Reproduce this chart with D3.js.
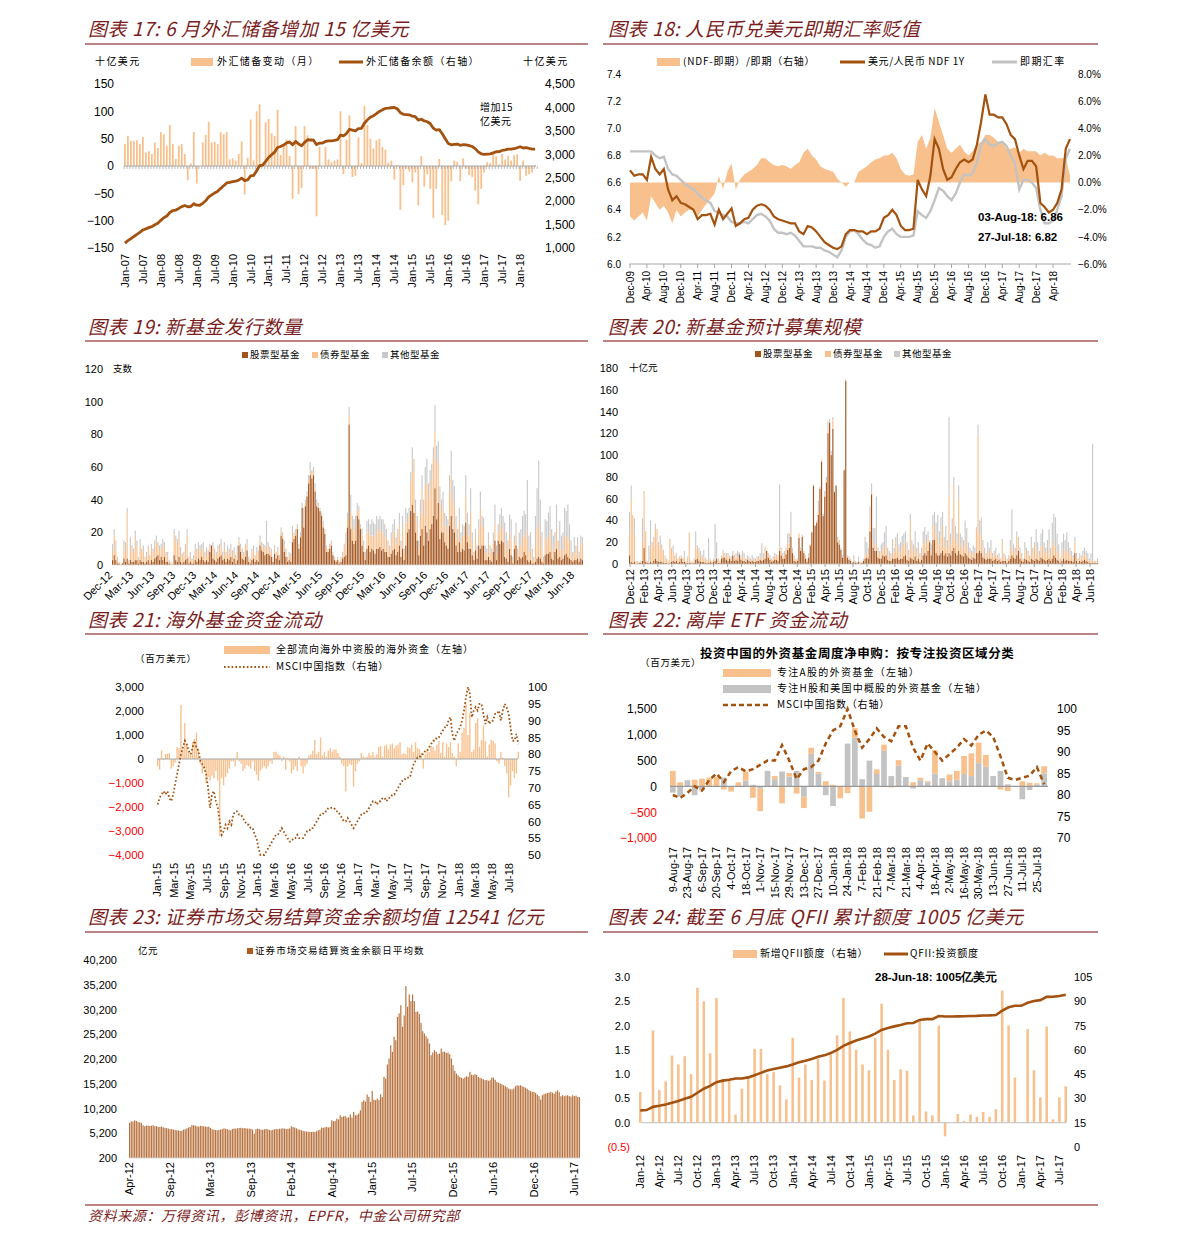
<!DOCTYPE html>
<html><head><meta charset="utf-8">
<script src="https://cdn.jsdelivr.net/npm/d3@7"></script>
<style>body{margin:0;background:#fff}</style>
</head><body>
<svg id="c" width="1191" height="1246" xmlns="http://www.w3.org/2000/svg"></svg>
<script>
// ================= DATA =================
// Panel 17: monthly FX reserve change (bn USD) and reserve level (bn USD), Jan-07 .. Jun-18
const p17Ticks = ["Jan-07","Jul-07","Jan-08","Jul-08","Jan-09","Jul-09","Jan-10","Jul-10","Jan-11","Jul-11","Jan-12","Jul-12","Jan-13","Jul-13","Jan-14","Jul-14","Jan-15","Jul-15","Jan-16","Jul-16","Jan-17","Jul-17","Jan-18"];
const fxChange = [40,55,46,46,47,40,53,25,27,22,43,33,
 62,58,37,75,40,13,37,40,22,-26,5,62,
 -32,0,43,57,81,43,44,40,62,58,62,12,
 14,10,22,45,-52,15,85,10,100,113,0,80,
 86,60,55,103,20,40,48,18,-60,73,-52,-40,
 73,56,-5,-5,-92,35,0,35,12,7,10,12,
 100,-15,48,93,-20,-18,52,5,110,75,50,32,
 47,50,35,30,6,10,-25,2,-80,-35,-5,-10,
 -30,-12,-72,18,-38,-15,-42,-95,-42,13,-90,-108,
 -100,-28,10,8,-28,14,-5,-17,-20,-45,-70,-42,
 -12,7,5,25,18,3,22,12,18,10,20,21,
 -27,10,-18,-15,-12,2];
const fxReserves = [1105,1157,1202,1246,1292,1333,1385,1409,1434,1455,1497,1528,
 1590,1647,1682,1757,1797,1809,1845,1884,1906,1880,1885,1946,
 1913,1912,1954,2009,2089,2132,2175,2211,2273,2328,2388,2399,
 2415,2425,2447,2490,2440,2454,2538,2548,2648,2760,2768,2847,
 2931,2991,3045,3145,3166,3197,3245,3263,3202,3274,3221,3181,
 3254,3310,3305,3300,3206,3240,3240,3273,3285,3288,3298,3312,
 3410,3395,3443,3535,3515,3497,3548,3553,3663,3736,3790,3821,
 3866,3914,3948,3979,3984,3993,4000,3969,3887,3853,3848,3843,
 3813,3802,3730,3748,3711,3694,3651,3557,3514,3525,3438,3330,
 3230,3202,3213,3219,3192,3205,3201,3185,3166,3121,3052,3011,
 2998,3005,3009,3030,3054,3057,3081,3092,3109,3109,3119,3140,
 3161,3134,3143,3125,3111,3112];

// Panel 18: monthly, Dec-09 .. Aug-18
const p18Ticks = ["Dec-09","Apr-10","Aug-10","Dec-10","Apr-11","Aug-11","Dec-11","Apr-12","Aug-12","Dec-12","Apr-13","Aug-13","Dec-13","Apr-14","Aug-14","Dec-14","Apr-15","Aug-15","Dec-15","Apr-16","Aug-16","Dec-16","Apr-17","Aug-17","Dec-17","Apr-18"];
const ndf1y = [6.69,
 6.65,6.66,6.66,6.62,6.79,6.70,6.66,6.70,6.55,6.47,6.50,6.45,
 6.44,6.42,6.40,6.33,6.36,6.36,6.37,6.29,6.40,6.33,6.37,6.41,
 6.28,6.30,6.33,6.34,6.40,6.43,6.44,6.43,6.40,6.35,6.33,6.32,
 6.31,6.30,6.30,6.24,6.22,6.28,6.27,6.24,6.20,6.16,6.14,6.12,
 6.11,6.13,6.22,6.25,6.25,6.24,6.24,6.22,6.24,6.24,6.26,6.34,
 6.36,6.40,6.36,6.28,6.25,6.25,6.26,6.62,6.55,6.50,6.65,6.92,
 6.85,6.70,6.62,6.64,6.70,6.75,6.77,6.75,6.77,6.88,7.05,7.25,
 7.10,7.10,7.08,7.08,7.03,6.95,6.92,6.80,6.70,6.76,6.76,6.72,
 6.45,6.42,6.38,6.40,6.45,6.55,6.85,6.92];
const spotRate = [6.83,
 6.83,6.83,6.83,6.83,6.83,6.80,6.78,6.79,6.70,6.66,6.65,6.62,
 6.59,6.57,6.55,6.52,6.49,6.47,6.45,6.39,6.38,6.36,6.35,6.31,
 6.30,6.30,6.31,6.30,6.33,6.36,6.37,6.35,6.32,6.26,6.23,6.23,
 6.22,6.23,6.21,6.17,6.13,6.13,6.13,6.12,6.12,6.10,6.09,6.07,
 6.05,6.10,6.20,6.24,6.25,6.22,6.18,6.15,6.14,6.12,6.13,6.20,
 6.24,6.26,6.22,6.20,6.20,6.20,6.21,6.39,6.36,6.34,6.39,6.47,
 6.56,6.54,6.50,6.47,6.52,6.60,6.66,6.65,6.67,6.75,6.88,6.92,
 6.88,6.87,6.89,6.90,6.87,6.80,6.74,6.55,6.62,6.62,6.60,6.56,
 6.40,6.30,6.30,6.32,6.40,6.50,6.78,6.85];
const ndfSpread = [-2.5,
 -2.8,-2.5,-2.2,-2.8,-1.0,-1.5,-2.0,-1.7,-2.2,-3.0,-2.0,-2.5,
 -2.2,-2.0,-2.0,-2.5,-2.0,-1.6,-1.2,-0.8,0.5,-0.5,0.8,1.4,
 -0.5,0.2,0.6,0.8,1.0,1.3,1.8,1.8,1.5,1.3,1.2,1.3,
 1.2,1.0,1.3,1.5,2.2,2.5,2.0,1.7,1.2,1.0,0.9,0.8,
 0.3,0.0,-0.3,0.0,0.0,0.8,1.0,1.2,1.5,1.7,1.8,2.0,
 2.0,2.2,1.8,1.0,0.6,0.5,0.6,3.0,3.5,2.5,3.3,5.5,
 4.5,3.5,2.5,2.2,2.5,2.8,2.3,2.0,2.3,2.8,3.0,3.5,
 3.5,3.3,3.0,3.0,2.5,2.5,2.6,2.2,2.5,2.3,2.3,2.3,
 2.0,2.2,2.0,2.0,1.8,1.8,1.8,0.5];

// Panel 19: weekly number of new funds, Dec-12 .. Jul-18
const p19Ticks = ["Dec-12","Mar-13","Jun-13","Sep-13","Dec-13","Mar-14","Jun-14","Sep-14","Dec-14","Mar-15","Jun-15","Sep-15","Dec-15","Mar-16","Jun-16","Sep-16","Dec-16","Mar-17","Jun-17","Sep-17","Dec-17","Mar-18","Jun-18"];
const stockCnt = [3,6,3,1,1,0,1,4,2,4,1,3,2, 2,3,3,1,3,2,2,1,2,3,1,3,2, 4,5,6,3,5,3,5,2,2,1,0,0,6, 3,2,5,2,1,2,3,4,1,2,1,1,3,
 2,4,3,5,3,2,3,2,8,12,4,3,2, 4,5,6,3,4,2,4,3,5,2,4,1,3, 12,8,4,3,5,9,2,1,3,4,2,3,2, 12,9,8,6,7,7,6,5,2,7,4,6,3,
 18,16,8,5,2,3,2,14,16,18,22,10,17, 35,23,36,42,50,55,53,55,45,36,35,33,30, 23,19,8,8,10,12,6,3,2,3,1,2,4, 5,6,23,86,22,15,13,15,30,28,22,12,8,
 3,10,12,8,10,9,7,10,10,11,9,10,8, 8,5,5,7,9,10,6,8,12,5,10,3,12, 20,22,33,37,32,20,15,6,18,22,12,24,20, 15,22,25,30,47,28,38,16,20,20,14,12,10,
 24,30,22,20,12,8,14,8,10,9,26,14,10, 10,6,3,9,4,12,10,12,12,3,3,5,3, 2,8,15,3,15,13,15,14,5,4,2,10,6, 1,10,12,3,5,4,5,8,6,3,2,3,1,
 1,2,4,5,4,2,1,6,7,7,8,4,3, 8,10,4,5,3,4,6,7,5,4,3,2,3, 3,4,2,4,3];
const bondCnt = [5,12,6,3,1,0,0,9,6,29,1,8,6, 6,14,8,3,9,6,7,3,4,7,4,7,6, 8,10,5,6,5,9,6,4,4,1,1,1,13, 12,10,10,6,4,4,7,14,3,4,2,3,7,
 5,6,5,5,7,4,5,4,3,0,7,4,4, 5,5,6,3,6,4,5,4,5,4,4,3,5, 3,3,3,3,5,4,2,2,5,5,3,5,5, 3,3,3,4,5,4,3,3,2,3,3,3,2,
 3,2,4,3,2,3,3,6,2,2,2,2,1, 1,2,2,1,2,3,2,2,2,2,1,1,1, 2,2,2,1,2,2,1,1,1,1,1,2,2, 4,8,5,6,10,7,8,9,4,5,1,6,4,
 3,10,8,10,8,9,10,12,10,11,11,10,9, 9,6,4,8,10,11,7,9,12,6,12,4,14, 6,8,18,28,25,12,10,5,14,24,18,25,30, 25,25,28,35,35,35,25,22,12,15,10,12,10,
 20,25,18,16,10,8,12,6,8,9,16,10,8, 22,8,3,8,5,10,24,12,10,5,4,8,5, 4,5,10,4,5,8,10,8,10,8,6,10,10, 2,4,6,3,6,8,12,10,10,18,6,7,3,
 2,10,18,20,14,8,2,10,9,10,12,8,6, 6,12,5,10,6,6,12,10,12,10,5,3,5, 4,8,3,10,10];
const otherCnt = [5,4,6,1,0,0,0,2,6,2,1,6,4, 2,4,4,1,4,2,3,1,2,2,1,3,2, 3,3,3,3,3,4,3,2,2,1,1,0,3, 3,4,6,3,2,2,3,4,1,2,1,2,3,
 3,4,4,3,4,2,3,3,2,0,3,3,2, 3,3,4,2,4,2,3,3,3,3,3,2,4, 2,2,3,2,3,3,1,1,2,3,1,3,2, 3,2,2,2,15,3,2,2,1,2,1,2,1,
 2,2,3,2,1,2,2,4,2,2,1,1,2, 2,10,2,2,3,5,3,3,3,2,2,1,1, 2,1,2,1,1,1,1,1,0,1,0,1,2, 4,6,4,5,11,8,7,6,4,3,2,4,3,
 2,7,8,7,10,8,8,8,8,8,8,8,8, 5,4,3,5,6,7,4,5,8,4,8,3,9, 6,5,6,7,8,8,5,4,8,9,10,11,15, 10,11,9,7,16,10,13,10,8,10,8,6,8,
 11,15,12,12,8,6,9,6,7,6,13,8,7, 15,6,2,5,3,6,11,6,7,4,3,7,4, 4,7,12,5,5,10,10,8,11,8,7,11,12, 2,4,8,4,9,10,13,15,15,31,10,10,6,
 2,18,25,39,22,10,2,12,11,15,16,10,9, 6,15,6,12,9,10,17,16,20,11,7,3,9, 5,5,3,4,4];

// Panel 20: weekly expected fundraising (bn CNY), Dec-12 .. Jul-18
const p20Ticks = ["Dec-12","Feb-13","Apr-13","Jun-13","Aug-13","Oct-13","Dec-13","Feb-14","Apr-14","Jun-14","Aug-14","Oct-14","Dec-14","Feb-15","Apr-15","Jun-15","Aug-15","Oct-15","Dec-15","Feb-16","Apr-16","Jun-16","Aug-16","Oct-16","Dec-16","Feb-17","Apr-17","Jun-17","Aug-17","Oct-17","Dec-17","Feb-18","Apr-18","Jun-18"];
const stockAmt = [8,2,1,2,0,0,1,1,3,15,2,1,1, 2,1,3,5,3,2,2,2,1,1,1,0,1, 2,3,2,3,1,2,5,2,2,1,1,1,1, 0,1,4,5,3,2,2,2,1,1,1,2,1,
 2,3,5,1,1,5,6,6,4,3,5,3,8, 3,4,3,9,4,3,3,2,4,3,2,3,2, 2,3,3,4,3,4,5,12,6,4,2,3,4, 4,3,12,8,5,5,9,13,15,25,10,3,2,
 3,24,12,25,10,5,2,6,17,29,72,35,38, 45,69,94,44,62,75,120,130,100,124,66,72,20, 18,13,6,86,168,6,4,3,1,2,1,1,2, 0,1,3,5,6,5,30,64,15,12,12,6,5,
 5,8,7,8,4,3,3,5,5,5,6,4,5, 5,7,8,4,3,6,5,4,7,3,5,2,4, 8,10,8,12,20,8,22,22,10,8,8,10,12, 8,10,7,10,8,12,15,10,8,12,9,8,7,
 10,8,6,5,4,6,5,10,10,12,10,6,5, 4,5,5,5,3,4,5,3,4,2,3,3,3, 1,3,5,8,6,5,8,12,5,3,2,5,4, 3,2,5,4,3,5,4,3,6,5,4,3,4,
 5,3,5,8,6,4,3,1,3,5,3,4,3, 3,3,2,10,3,1,3,2,3,4,3,2,1, 1,1,1,1,1];
const bondAmt = [20,58,44,24,2,2,1,1,17,52,28,1,1, 13,17,20,27,29,16,12,16,10,5,3,2,22, 12,8,5,5,3,4,2,3,3,1,5,28,1, 1,3,11,10,8,6,4,3,4,2,2,2,1,
 2,1,2,3,1,2,5,2,4,4,2,2,2, 3,3,3,1,2,4,3,1,2,2,1,2,2, 1,2,2,3,2,3,11,0,2,2,2,2,4, 3,4,3,5,3,4,4,6,4,5,3,3,2,
 1,4,2,1,1,2,2,2,1,1,1,1,1, 3,1,1,1,2,2,3,1,1,8,1,1,3, 2,1,1,1,1,1,1,1,0,2,1,0,1, 1,0,1,3,4,3,5,3,5,6,5,4,3,
 6,6,8,10,5,4,3,6,5,18,10,6,7, 10,12,12,8,5,34,8,7,10,6,8,4,6, 10,12,10,10,1,5,12,14,12,20,10,15,23, 8,12,7,53,10,15,58,12,10,48,9,8,7,
 12,10,6,5,4,5,5,22,108,15,15,8,5, 3,8,5,7,4,4,5,3,3,2,18,4,3, 2,3,8,8,6,5,18,8,5,3,2,8,6, 5,3,8,5,15,10,7,4,10,12,7,5,8,
 10,5,13,12,10,8,6,2,7,8,8,10,7, 6,4,3,10,3,2,4,3,5,5,4,4,2, 3,2,1,1,2];
const otherAmt = [20,12,0,16,1,1,0,1,22,0,0,1,15, 25,2,2,5,0,2,12,0,2,2,1,1,0, 1,6,1,2,1,1,1,1,7,1,1,0,1, 1,1,15,2,4,4,2,8,1,1,21,1,1,
 1,33,13,1,1,1,2,2,2,3,1,2,2, 2,3,6,1,2,5,4,2,2,2,2,3,2, 2,2,2,3,14,3,0,0,2,2,1,2,2, 2,1,58,2,2,3,2,9,9,18,2,2,1,
 1,0,1,1,1,1,1,2,0,0,0,0,1, 10,1,1,1,3,3,8,2,3,3,0,0,2, 2,1,1,0,1,1,2,1,1,4,1,1,4, 1,1,1,17,10,7,18,7,13,15,45,5,4,
 7,6,14,17,6,5,4,12,5,2,12,8,8, 11,9,10,8,5,6,9,7,13,6,7,4,5, 12,12,9,8,1,5,11,12,16,17,12,18,13, 9,13,8,72,10,15,7,13,10,12,10,9,8,
 18,15,8,5,4,6,5,2,10,13,18,8,5, 3,7,5,10,3,4,5,2,3,1,2,3,2, 2,2,9,34,6,5,4,5,5,4,1,7,5, 4,3,12,6,2,17,9,5,12,15,9,7,10,
 17,7,20,26,27,16,9,2,10,15,11,15,10, 6,5,3,5,4,2,3,3,4,6,5,4,2, 6,107,1,1,2];

// Panel 21: weekly overseas fund flows (mn USD) and MSCI China, Jan-15 .. Aug-18
const p21Ticks = ["Jan-15","Mar-15","May-15","Jul-15","Sep-15","Nov-15","Jan-16","Mar-16","May-16","Jul-16","Sep-16","Nov-16","Jan-17","Mar-17","May-17","Jul-17","Sep-17","Nov-17","Jan-18","Mar-18","May-18","Jul-18"];
const fundFlow = [-300,-450,350,-50, 200,220,250,-400, -300,-150,500,450, 2250,400,1500,600,300, 200,700,850,1100, 400,-200,-600,-400,
 -1000,-750,-900,-700,-800, -500,-900,-3200,-800, -1100,-750,-600,-400,-100, -100,-300,300,-100, -200,-500,-400,-250, -300,-400,-100,-500,-650,
 -900,-500,-400,-300, -400,-300,-100,-200, 300,300,200,150,-100, 100,-450,50,-100, -600,-450,-300,-500, 100,-300,-600,-300,-200,
 150,200,350,800, 200,300,900,150,300, 100,350,450,300, 400,400,250,100, -200,-300,-1350,-300,-200, -250,-1150,-500,-200,
 -100,250,100,50, 100,250,150,300, 100,200,500,550,100, 550,600,400,600, 650,450,550,600,700, 200,250,200,500,
 450,600,300,700, 450,400,250,-400,200, 400,300,550,500, 350,600,750,250, 700,100,650,500,700, 250,100,-300,650,
 300,1100,1300,2300,1000, 1900,300,400,1500, 1700,500,800,1400, 750,100,600,800, 750,650,-100,-200,300, 50,-300,-600,-1600,
 -1100,-500,-800,-600, 300];
const msciWeekly = [65,67,68,69, 68,69,67,66, 68,71,74,77, 80,82,84,83,81, 80,82,84,82, 81,78,77,76,
 74,70,64,68,69, 66,64,60,56, 57,59,58,60,59, 62,63,63,62, 62,61,60,59, 59,58,58,56,55,
 52,50,50,50, 51,52,53,54, 55,56,56,57,58, 57,56,55,54, 54,55,55,56, 55,55,55,56,57,
 57,58,58,59, 60,61,62,62,63, 63,64,64,64, 64,63,63,62, 61,60,60,61,60, 59,58,59,60,
 61,62,62,63, 63,64,65,66, 66,65,66,66,67, 67,66,67,67, 68,68,69,70,71, 72,72,73,73,
 73,75,77,78, 79,79,80,80,81, 81,82,83,84, 84,85,85,86, 87,88,88,90,91, 86,84,86,87,
 88,90,93,97,100, 98,91,93,94, 93,95,95,92, 89,91,89,90, 90,92,92,93,90, 93,95,94,92,
 88,84,84,86, 83];

// Panel 22: weekly net subscriptions (mn USD) 9-Aug-17 .. 1-Aug-18
const p22Ticks = ["9-Aug-17","23-Aug-17","6-Sep-17","20-Sep-17","4-Oct-17","18-Oct-17","1-Nov-17","15-Nov-17","29-Nov-17","13-Dec-17","27-Dec-17","10-Jan-18","24-Jan-18","7-Feb-18","21-Feb-18","7-Mar-18","21-Mar-18","4-Apr-18","18-Apr-18","2-May-18","16-May-18","30-May-18","13-Jun-18","27-Jun-18","11-Jul-18","25-Jul-18"];
const aShareFunds = [300,80,0,130,150,170,185,-60,-100,80, 180,-220,-440,0,60,-330,70,-140,-220,120,
 30,100,30,-230,-130,180,-620,-490,90,110, -20,110,0,80,50,20,450,0,130,170,
 350,440,400,230,0,-60,-90,0,100,70, 20,140];
const hShareFunds = [-120,-200,120,-170,-80,0,0,170,0,0, 110,30,-40,300,140,290,190,300,-200,630,
 250,-170,-380,0,830,950,140,500,240,700, 200,400,180,-40,120,80,250,160,100,130,
 240,200,450,380,200,300,40,10,-250,-70, 40,250];
const msci22 = [80,79.3,80.5,82,81,83.5,85,83,85.5,86.5, 85.5,86,87,88,88,91.6,88,83.7,86,86.5,
 88,92,95,96,100,95,91,93,95.5,93.5, 92.5,96,96,91,88,92,90,88,89.5,91,
 93,91.5,94,95,93.5,89,84,83.5,84,84.5, 86.5,82.5];

// Panel 23: weekly settlement fund balance (100mn CNY), Apr-12 .. Jun-17
const p23Ticks = ["Apr-12","Sep-12","Mar-13","Sep-13","Feb-14","Aug-14","Jan-15","Jul-15","Dec-15","Jun-16","Dec-16","Jun-17"];
const settleFunds = [
 7280,7620,7550,7820,7700,7480,7400,7300,6810,6600,6750,6740,6670,6700,6820,6600,6650,6470,6500,6550,6400,6300,6250,6130,
 6000,6050,5930,5900,5800,5750,5660,5700,5930,6000,6200,6350,6470,6880,6800,6740,6600,6540,6700,6670,6600,6540,6500,6540,
 6270,6000,5930,5850,5800,5870,5930,6050,6200,6100,6000,5900,5800,6070,6150,6130,6200,6270,6300,6200,6250,6200,6150,6130,
 6100,5930,5120,6050,6130,6050,5900,5930,6000,6070,6000,5850,5800,5900,6000,6050,6000,6100,6130,6200,6130,6050,6100,6150,
 6600,6450,6340,6200,6000,5900,5800,5700,5600,5530,5500,5460,5450,5500,5460,5600,5800,5900,6340,6300,6400,6470,6350,6470,
 7820,7620,7700,8160,8000,8830,8490,8600,8700,8360,8400,9000,8360,9500,8830,8900,9200,9840,11530,11870,11600,13010,12540,11530,
 13750,12000,11870,12200,11900,13080,12500,16590,16250,19080,20300,22990,21650,24680,24000,28720,29400,31080,26700,29000,34930,30750,33240,31890,
 33240,31890,29730,29800,29260,27500,25820,25350,24800,24340,23330,20970,21500,21980,21640,21200,21310,22320,21640,21700,21440,21500,21170,20290,
 18950,17800,17260,16900,16590,16400,16250,16500,16720,16590,17600,17000,16920,17130,17000,16590,16400,16250,16100,15910,16000,15780,15900,16450,
 16450,16000,15570,15400,15240,15100,14900,14700,14500,14230,14100,14020,14200,14700,14900,14800,14900,14700,14560,14400,14200,13900,13700,13550,
 13550,13350,13010,12700,12000,12880,13080,13200,13350,13400,13550,13400,13210,13600,13890,13500,12680,12900,12680,12800,12880,12700,12600,12880,
 12700,12800,12540,12541];

// Panel 24: monthly QFII, Jan-12 .. Aug-17
const p24Ticks = ["Jan-12","Apr-12","Jul-12","Oct-12","Jan-13","Apr-13","Jul-13","Oct-13","Jan-14","Apr-14","Jul-14","Oct-14","Jan-15","Apr-15","Jul-15","Oct-15","Jan-16","Apr-16","Jul-16","Oct-16","Jan-17","Apr-17","Jul-17"];
const qfiiNew = [0.63,0,1.9,0.67,0.85,1.38,1.2,1.37,1.0,2.78,2.5,1.43,
 2.57,0.9,0.9,0.17,0.7,0.95,1.52,1.52,1.0,1.05,0.77,0.48,
 1.75,0.93,1.2,0.88,1.32,0.87,1.4,1.8,2.57,1.88,1.5,1.2,
 1.08,1.75,2.45,1.5,0.88,1.1,1.07,0.15,2.1,0.23,0.15,2.0,
 -0.28,0,0.18,0.04,0.17,0.12,0.22,0.12,0.28,2.72,2.0,0.93,
 0,1.93,1.08,0.52,1.98,0.07,0.52,0.75];
const qfiiTotal = [22.6,22.8,24.8,25.5,26.3,27.3,28.4,29.8,31,33.5,36,37.7,
 40,41,41.5,42.3,42.3,43,44.3,45.8,47.2,48.2,49,49.8,
 51,52.3,53.3,54.4,55.7,56.6,58,60,62.5,64.2,65.8,67,
 68.3,70,72.3,73.5,74.5,75.4,76.4,76.6,78.5,79,79,80.9,
 80.6,80.6,80.7,80.8,80.9,81.0,81.2,81.3,81.5,84.2,86.3,87.2,
 87.2,89.1,90.2,90.7,92.7,92.8,93.3,94];

// ================= DRAWING =================
const svg = d3.select("#c");
const TITLE="#7b1e1e", RULE="#a45a5a", PEACH="#f8c08d", BROWN="#a3520f", LGRAY="#c3c3c3", AX="#a6a6a6";
const STOCK="#a3541c", BOND="#f8c08d", OTHER="#c9c9c9";
const CN='"Noto Sans CJK SC", sans-serif', LAT='"Liberation Sans", Arial, sans-serif';

function txt(x,y,t,o={}){
  const e=svg.append("text").attr("x",x).attr("y",y).text(t)
   .attr("font-family",o.f||LAT).attr("font-size",o.s||11).attr("fill",o.c||"#000");
  if(o.a) e.attr("text-anchor",o.a);
  if(o.b!==false) e.attr("dominant-baseline",o.b||"middle");
  if(o.w) e.attr("font-weight",o.w);
  if(o.i) e.attr("font-style","italic");
  if(o.ls) e.attr("letter-spacing",o.ls);
  return e;
}
function title(x,y,t){ txt(x,y,t,{f:CN,s:19,c:TITLE,i:1,b:false,ls:0.6}); }
function hline(x1,x2,y,c,w){ svg.append("line").attr("x1",x1).attr("x2",x2).attr("y1",y).attr("y2",y).attr("stroke",c).attr("stroke-width",w||1); }
function vlabels(xs,labels,yTop,s){
  svg.append("g").selectAll("text").data(labels).join("text")
   .attr("transform",(d,i)=>`translate(${xs[i]},${yTop}) rotate(-90)`)
   .attr("text-anchor","end").attr("dy","0.35em").attr("font-family",LAT).attr("font-size",s||11).attr("fill","#000").text(d=>d);
}
function yAxis(scale,x,side,values,fmt,o={}){
  const ax=(side==="left"?d3.axisLeft(scale):d3.axisRight(scale)).tickValues(values).tickSize(0).tickPadding(0).tickFormat(fmt);
  const g=svg.append("g").attr("transform",`translate(${x},0)`).call(ax);
  g.select(".domain").remove();
  g.selectAll("text").attr("font-family",LAT).attr("font-size",o.s||12).attr("fill",d=>(o.red&&d<0)?"#ff0000":"#000");
  return g;
}
function swatchRect(x,y,w,h,c){ svg.append("rect").attr("x",x).attr("y",y).attr("width",w).attr("height",h).attr("fill",c); }
function swatchLine(x1,x2,y,c,w,dash){ const l=svg.append("line").attr("x1",x1).attr("x2",x2).attr("y1",y).attr("y2",y).attr("stroke",c).attr("stroke-width",w); if(dash) l.attr("stroke-dasharray",dash); }
const LEG={f:CN,s:10,ls:1.4};

// ---------- Panel 17 ----------
title(88,36,"图表 17: 6 月外汇储备增加 15 亿美元");
hline(85,588,44,RULE,1.5);
txt(95,62,"十亿美元",LEG);
swatchRect(191,58,22,8,PEACH); txt(217,62,"外汇储备变动（月）",LEG);
swatchLine(339,363,62,BROWN,3); txt(366,62,"外汇储备余额（右轴）",LEG);
txt(523,62,"十亿美元",LEG);
{
  const x=d3.scaleBand().domain(d3.range(fxChange.length)).range([124,536]).paddingInner(0.4);
  const y=d3.scaleLinear().domain([-150,150]).range([248,84]);
  const yr=d3.scaleLinear().domain([1000,4500]).range([248,84]);
  svg.append("g").selectAll("rect").data(fxChange).join("rect")
    .attr("x",(d,i)=>x(i)).attr("width",x.bandwidth())
    .attr("y",d=>y(Math.max(0,d))).attr("height",d=>Math.abs(y(d)-y(0))).attr("fill",PEACH);
  hline(124,536,y(0),AX,1);
  svg.append("g").selectAll("line").data(d3.range(fxChange.length+1)).join("line")
    .attr("x1",i=>124+i*x.step()).attr("x2",i=>124+i*x.step()).attr("y1",y(0)).attr("y2",y(0)+3).attr("stroke",AX).attr("stroke-width",0.8);
  svg.append("path").datum(fxReserves).attr("fill","none").attr("stroke",BROWN).attr("stroke-width",2.8).attr("stroke-linejoin","round")
    .attr("d",d3.line().x((d,i)=>x(i)+x.bandwidth()/2).y(d=>yr(d)));
  yAxis(y,114,"left",[-150,-100,-50,0,50,100,150],d3.format("d"));
  yAxis(yr,545,"right",d3.range(1000,4501,500),d3.format(","));
  vlabels(p17Ticks.map((d,k)=>x(k*6)+x.bandwidth()/2),p17Ticks,254,11);
  txt(480,108,"增加15",{f:CN,s:10,ls:0.5});
  txt(480,122,"亿美元",{f:CN,s:10,ls:0.5});
}

// ---------- Panel 18 ----------
title(608,36,"图表 18: 人民币兑美元即期汇率贬值");
hline(603,1098,44,RULE,1.5);
swatchRect(657,58,23,8,PEACH); txt(683,62,"(NDF-即期）/即期（右轴）",{f:CN,s:10,ls:0.8});
swatchLine(840,865,62,BROWN,3); txt(868,62,"美元/人民币 NDF 1Y",{f:CN,s:10,ls:0.6});
swatchLine(992,1017,62,LGRAY,3); txt(1020,62,"即期汇率",LEG);
{
  const x=d3.scaleLinear().domain([0,ndf1y.length-1]).range([630,1070]);
  const y=d3.scaleLinear().domain([6.0,7.4]).range([264,74]);
  const yr=d3.scaleLinear().domain([-6,8]).range([264,74]);
  svg.append("path").datum(ndfSpread).attr("fill",PEACH)
    .attr("d",d3.area().x((d,i)=>x(i)).y0(yr(0)).y1(d=>yr(d)));
  svg.append("path").datum(spotRate).attr("fill","none").attr("stroke",LGRAY).attr("stroke-width",2.4)
    .attr("d",d3.line().x((d,i)=>x(i)).y(d=>y(d)));
  svg.append("path").datum(ndf1y).attr("fill","none").attr("stroke",BROWN).attr("stroke-width",2.2)
    .attr("d",d3.line().x((d,i)=>x(i)).y(d=>y(d)));
  hline(629,1071,264,AX,1);
  const tx=p18Ticks.map((d,k)=>x(k*4));
  svg.append("g").selectAll("line").data(tx).join("line").attr("x1",d=>d).attr("x2",d=>d).attr("y1",264).attr("y2",268).attr("stroke",AX);
  yAxis(y,621,"left",d3.range(0,8).map(k=>6+k*0.2),d3.format(".1f"),{s:10});
  yAxis(yr,1078,"right",d3.range(-6,9,2),d=>d3.format(".1f")(d)+"%",{s:10});
  vlabels(tx,p18Ticks,271,10);
  txt(978,218,"03-Aug-18: 6.86",{s:11.5,w:"bold"});
  txt(978,238,"27-Jul-18: 6.82",{s:11.5,w:"bold"});
}

// ---------- Panel 19 ----------
title(88,334,"图表 19: 新基金发行数量");
hline(85,588,341,RULE,1.5);
swatchRect(242,352,6,6,STOCK); txt(250,355,"股票型基金",{f:CN,s:9.5,ls:0.5});
swatchRect(312,352,6,6,BOND); txt(320,355,"债券型基金",{f:CN,s:9.5,ls:0.5});
swatchRect(382,352,6,6,OTHER); txt(390,355,"其他型基金",{f:CN,s:9.5,ls:0.5});
{
  const rows=stockCnt.map((d,i)=>({s:stockCnt[i],b:bondCnt[i],o:otherCnt[i]}));
  const series=d3.stack().keys(["s","b","o"])(rows);
  const x=d3.scaleBand().domain(d3.range(rows.length)).range([112,583]).paddingInner(0.3);
  const y=d3.scaleLinear().domain([0,120]).range([565,369]);
  const col={s:STOCK,b:BOND,o:OTHER};
  svg.append("g").selectAll("g").data(series).join("g").attr("fill",s=>col[s.key])
    .selectAll("rect").data(s=>s).join("rect")
    .attr("x",(d,i)=>x(i)).attr("width",x.bandwidth()).attr("y",d=>y(d[1])).attr("height",d=>y(d[0])-y(d[1]));
  hline(112,583,565,"#d9d9d9",0.8);
  yAxis(y,103,"left",d3.range(0,121,20),d3.format("d"),{s:11});
  txt(113,369,"支数",{f:CN,s:9.5});
  const mx=d3.scaleLinear().domain([0,66]).range([113,575]);
  svg.append("g").selectAll("text").data(p19Ticks).join("text")
    .attr("transform",(d,k)=>`translate(${mx(k*3)},${576}) rotate(-45)`)
    .attr("text-anchor","end").attr("font-family",LAT).attr("font-size",11).text(d=>d);
}

// ---------- Panel 20 ----------
title(608,334,"图表 20: 新基金预计募集规模");
hline(603,1098,341,RULE,1.5);
swatchRect(755,351,6,6,STOCK); txt(763,354,"股票型基金",{f:CN,s:9.5,ls:0.5});
swatchRect(825,351,6,6,BOND); txt(833,354,"债券型基金",{f:CN,s:9.5,ls:0.5});
swatchRect(894,351,6,6,OTHER); txt(902,354,"其他型基金",{f:CN,s:9.5,ls:0.5});
{
  const rows=stockAmt.map((d,i)=>({s:stockAmt[i],b:bondAmt[i],o:otherAmt[i]}));
  const series=d3.stack().keys(["s","b","o"])(rows);
  const x=d3.scaleBand().domain(d3.range(rows.length)).range([629,1098]).paddingInner(0.3);
  const y=d3.scaleLinear().domain([0,180]).range([564,368]);
  const col={s:STOCK,b:BOND,o:OTHER};
  svg.append("g").selectAll("g").data(series).join("g").attr("fill",s=>col[s.key])
    .selectAll("rect").data(s=>s).join("rect")
    .attr("x",(d,i)=>x(i)).attr("width",x.bandwidth()).attr("y",d=>y(d[1])).attr("height",d=>y(d[0])-y(d[1]));
  hline(629,1098,564,"#bfbfbf",0.8);
  yAxis(y,618,"left",d3.range(0,181,20),d3.format("d"),{s:11});
  txt(629,368,"十亿元",{f:CN,s:9.5});
  const mx=d3.scaleLinear().domain([0,66]).range([630,1090]);
  const tx=p20Ticks.map((d,k)=>mx(k*2));
  svg.append("g").selectAll("line").data(tx).join("line").attr("x1",d=>d).attr("x2",d=>d).attr("y1",564).attr("y2",567).attr("stroke",AX);
  vlabels(tx,p20Ticks,569,11);
}

// ---------- Panel 21 ----------
title(88,627,"图表 21: 海外基金资金流动");
hline(85,588,634,RULE,1.5);
swatchRect(224,646,46,8,PEACH); txt(276,650,"全部流向海外中资股的海外资金（左轴）",{f:CN,s:10,ls:1.0});
swatchLine(224,270,667,BROWN,1.8,"1.6,2.2"); txt(276,667,"MSCI中国指数（右轴）",{f:CN,s:10,ls:0.8});
txt(135,659,"（百万美元）",{f:CN,s:9.5,ls:0.8});
{
  const x=d3.scaleBand().domain(d3.range(fundFlow.length)).range([157,519]).paddingInner(0.3);
  const y=d3.scaleLinear().domain([-4000,3000]).range([855,687]);
  const yr=d3.scaleLinear().domain([50,100]).range([855,687]);
  svg.append("g").selectAll("rect").data(fundFlow).join("rect")
    .attr("x",(d,i)=>x(i)).attr("width",x.bandwidth())
    .attr("y",d=>y(Math.max(0,d))).attr("height",d=>Math.abs(y(d)-y(0))).attr("fill",PEACH);
  hline(157,518,y(0),AX,1);
  svg.append("path").datum(msciWeekly).attr("fill","none").attr("stroke",BROWN).attr("stroke-width",1.8).attr("stroke-dasharray","1.6,2.2")
    .attr("d",d3.line().x((d,i)=>x(i)+x.bandwidth()/2).y(d=>yr(d)));
  yAxis(y,144,"left",d3.range(-4000,3001,1000),d3.format(","),{s:11.5,red:1});
  yAxis(yr,528,"right",d3.range(50,101,5),d3.format("d"),{s:11.5});
  const mx=d3.scaleLinear().domain([0,42]).range([157,509]);
  vlabels(p21Ticks.map((d,k)=>mx(k*2)),p21Ticks,863,11);
}

// ---------- Panel 22 ----------
title(608,627,"图表 22: 离岸 ETF 资金流动");
hline(603,1098,634,RULE,1.5);
txt(700,655,"投资中国的外资基金周度净申购：按专注投资区域分类",{f:CN,s:12.5,w:"bold",ls:0.6});
txt(640,663,"（百万美元）",{f:CN,s:9.5,ls:0.7});
swatchRect(723,669,48,8,PEACH); txt(777,673,"专注A股的外资基金（左轴）",{f:CN,s:10,ls:1.3});
swatchRect(723,685,48,8,LGRAY); txt(777,689,"专注H股和美国中概股的外资基金（左轴）",{f:CN,s:10,ls:1.2});
swatchLine(723,771,705,BROWN,2.5,"5,3"); txt(777,705,"MSCI中国指数（右轴）",{f:CN,s:10,ls:0.8});
{
  const rows=aShareFunds.map((d,i)=>({h:hShareFunds[i],a:aShareFunds[i]}));
  const series=d3.stack().keys(["h","a"]).offset(d3.stackOffsetDiverging)(rows);
  const x=d3.scaleBand().domain(d3.range(rows.length)).range([670,1047]).paddingInner(0.22);
  const y=d3.scaleLinear().domain([-1000,1500]).range([838,709]);
  const yr=d3.scaleLinear().domain([70,100]).range([838,709]);
  const col={h:LGRAY,a:PEACH};
  svg.append("g").selectAll("g").data(series).join("g").attr("fill",s=>col[s.key])
    .selectAll("rect").data(s=>s).join("rect")
    .attr("x",(d,i)=>x(i)).attr("width",x.bandwidth()).attr("y",d=>y(Math.max(d[0],d[1]))).attr("height",d=>Math.abs(y(d[0])-y(d[1])));
  hline(670,1048,y(0),"#999",1.2);
  svg.append("path").datum(msci22).attr("fill","none").attr("stroke",BROWN).attr("stroke-width",2.5).attr("stroke-dasharray","5,3.5")
    .attr("d",d3.line().x((d,i)=>x(i)+x.bandwidth()/2).y(d=>yr(d)));
  yAxis(y,657,"left",d3.range(-1000,1501,500),d3.format(","),{s:12,red:1});
  yAxis(yr,1057,"right",d3.range(70,101,5),d3.format("d"),{s:12});
  vlabels(p22Ticks.map((d,k)=>x(k*2)+x.bandwidth()/2),p22Ticks,847,11);
}

// ---------- Panel 23 ----------
title(88,924,"图表 23: 证券市场交易结算资金余额均值 12541 亿元");
hline(85,588,932,RULE,1.5);
txt(138,951,"亿元",{f:CN,s:9.5,ls:0.5});
swatchRect(247,948,6,6,"#b05a20"); txt(255,951,"证券市场交易结算资金余额日平均数",{f:CN,s:9.5,ls:1.1});
{
  const x=d3.scaleBand().domain(d3.range(settleFunds.length)).range([129,580]).paddingInner(0.3);
  const y=d3.scaleLinear().domain([200,40200]).range([1158,960]);
  svg.append("g").selectAll("rect").data(settleFunds).join("rect")
    .attr("x",(d,i)=>x(i)).attr("width",x.bandwidth()).attr("y",d=>y(d)).attr("height",d=>y(200)-y(d)).attr("fill","#b8723e");
  hline(129,580,1158,"#d0d0d0",0.8);
  yAxis(y,117,"left",d3.range(200,40201,5000),d3.format(","),{s:11});
  vlabels(p23Ticks.map((d,k)=>x(k*24)+x.bandwidth()/2),p23Ticks,1162,11);
}

// ---------- Panel 24 ----------
title(608,924,"图表 24: 截至 6 月底 QFII 累计额度 1005 亿美元");
hline(603,1098,932,RULE,1.5);
swatchRect(733,950,24,8,PEACH); txt(760,954,"新增QFII额度（右轴）",{f:CN,s:10,ls:0.8});
swatchLine(884,908,954,BROWN,3); txt(910,954,"QFII:投资额度",{f:CN,s:10,ls:0.8});
txt(875,978,"28-Jun-18: 1005亿美元",{f:LAT,s:11.5,w:"bold"});
{
  const x=d3.scaleBand().domain(d3.range(qfiiNew.length)).range([639,1067]).paddingInner(0.6);
  const y=d3.scaleLinear().domain([-0.5,3.0]).range([1147,977]);
  const yr=d3.scaleLinear().domain([0,105]).range([1147,977]);
  svg.append("g").selectAll("rect").data(qfiiNew).join("rect")
    .attr("x",(d,i)=>x(i)).attr("width",x.bandwidth())
    .attr("y",d=>y(Math.max(0,d))).attr("height",d=>Math.abs(y(d)-y(0))).attr("fill",PEACH);
  hline(641,1066,y(0),"#bfbfbf",1);
  svg.append("path").datum(qfiiTotal).attr("fill","none").attr("stroke",BROWN).attr("stroke-width",2.6)
    .attr("d",d3.line().x((d,i)=>x(i)+x.bandwidth()/2).y(d=>yr(d)));
  yAxis(y,630,"left",[-0.5,0,0.5,1,1.5,2,2.5,3],d=>d<0?"("+d3.format(".1f")(-d)+")":d3.format(".1f")(d),{s:11,red:1});
  yAxis(yr,1074,"right",d3.range(0,106,15),d3.format("d"),{s:11});
  vlabels(p24Ticks.map((d,k)=>x(k*3)+x.bandwidth()/2),p24Ticks,1155,11);
}

// ---------- Footer ----------
hline(85,1098,1205,RULE,1.5);
txt(88,1217,"资料来源：万得资讯，彭博资讯，EPFR，中金公司研究部",{f:CN,s:14,c:TITLE,i:1,ls:0.6});
</script>
</body></html>
